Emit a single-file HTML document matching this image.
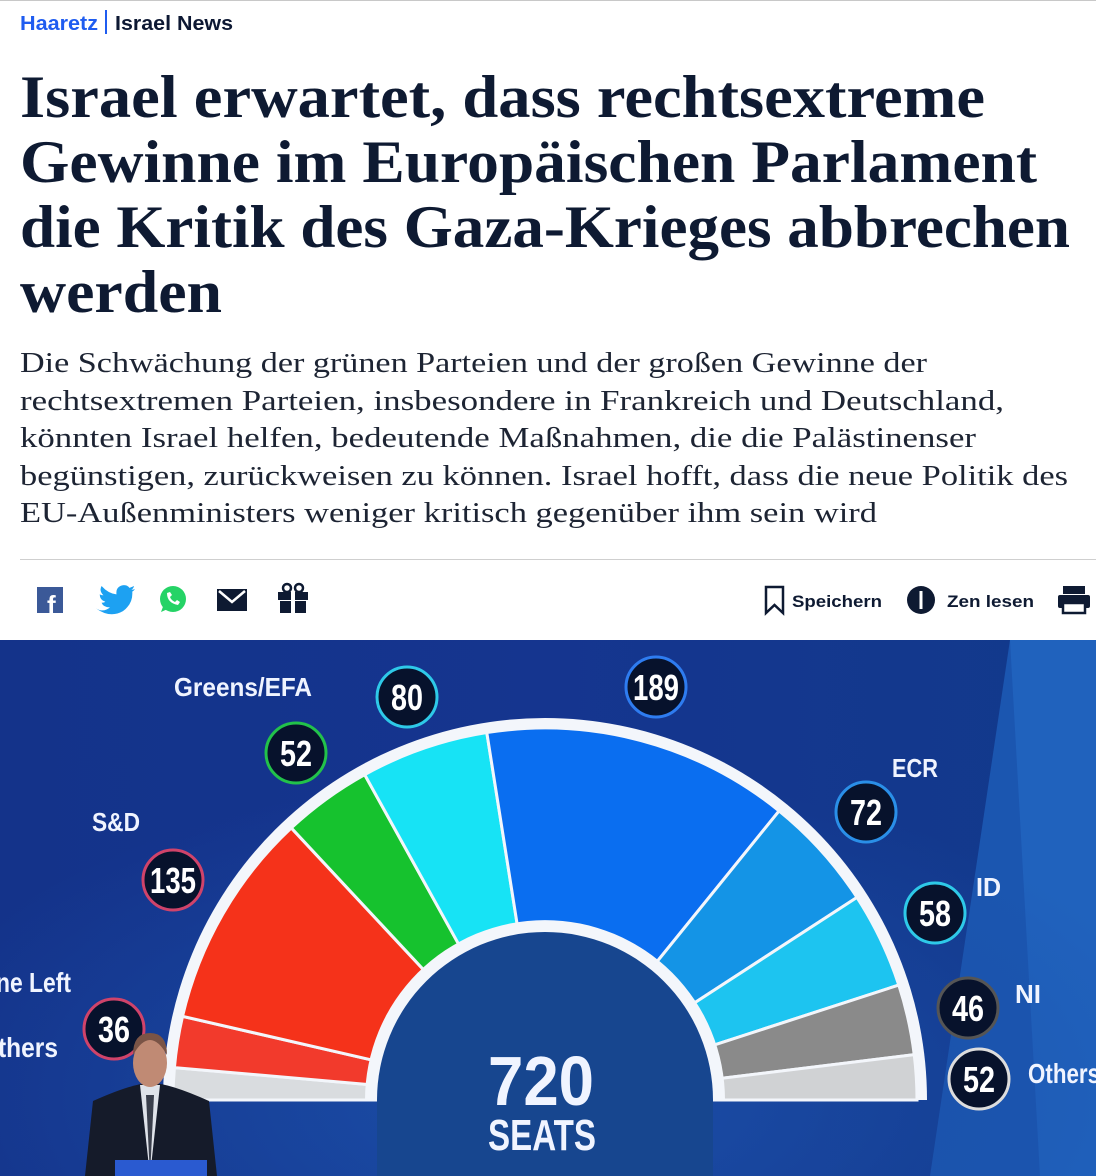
<!DOCTYPE html>
<html><head><meta charset="utf-8"><style>
html,body{margin:0;padding:0;background:#fff;}
body{width:1096px;height:1176px;overflow:hidden;position:relative;font-family:"Liberation Sans",sans-serif;}
svg{position:absolute;left:0;top:0;}
</style></head><body>
<svg width="1096" height="1176" viewBox="0 0 1096 1176" id="s">
<defs>
<linearGradient id="bg" x1="0" y1="0" x2="1" y2="0">
<stop offset="0" stop-color="#14338a"/><stop offset="0.5" stop-color="#15358f"/><stop offset="1" stop-color="#123a8c"/>
</linearGradient>
<radialGradient id="glow" cx="0.5" cy="0.85" r="0.6">
<stop offset="0" stop-color="#1b4fa8"/><stop offset="1" stop-color="#1b4fa8" stop-opacity="0"/>
</radialGradient>
</defs>
<line x1="0" y1="0.5" x2="1096" y2="0.5" stroke="#c8c8c8"/>
<text x="20" y="30" font-family="Liberation Sans" font-weight="bold" font-size="20" fill="#1f5cf0" textLength="78" lengthAdjust="spacingAndGlyphs">Haaretz</text>
<rect x="105" y="10" width="2" height="24" fill="#1f5cf0"/>
<text x="115" y="30" font-family="Liberation Sans" font-weight="bold" font-size="20" fill="#0d1833" textLength="118" lengthAdjust="spacingAndGlyphs">Israel News</text>
<g font-family="Liberation Serif" font-weight="bold" font-size="60" fill="#0e1a32">
<text x="20" y="117" textLength="965" lengthAdjust="spacingAndGlyphs">Israel erwartet, dass rechtsextreme</text>
<text x="20" y="182" textLength="1017" lengthAdjust="spacingAndGlyphs">Gewinne im Europäischen Parlament</text>
<text x="20" y="247" textLength="1050" lengthAdjust="spacingAndGlyphs">die Kritik des Gaza-Krieges abbrechen</text>
<text x="20" y="312" textLength="202" lengthAdjust="spacingAndGlyphs">werden</text>
</g>
<g font-family="Liberation Serif" font-size="29" fill="#1d2433">
<text x="20" y="372" textLength="907" lengthAdjust="spacingAndGlyphs">Die Schwächung der grünen Parteien und der großen Gewinne der</text>
<text x="20" y="410" textLength="984" lengthAdjust="spacingAndGlyphs">rechtsextremen Parteien, insbesondere in Frankreich und Deutschland,</text>
<text x="20" y="447" textLength="956" lengthAdjust="spacingAndGlyphs">könnten Israel helfen, bedeutende Maßnahmen, die die Palästinenser</text>
<text x="20" y="485" textLength="1048" lengthAdjust="spacingAndGlyphs">begünstigen, zurückweisen zu können. Israel hofft, dass die neue Politik des</text>
<text x="20" y="522" textLength="857" lengthAdjust="spacingAndGlyphs">EU-Außenministers weniger kritisch gegenüber ihm sein wird</text>
</g>
<line x1="20" y1="559.5" x2="1096" y2="559.5" stroke="#cfcfcf"/>
<!-- icons -->
<rect x="37" y="587" width="26" height="26" fill="#3b5998"/>
<text x="47" y="614" font-family="Liberation Sans" font-weight="bold" font-size="26" fill="#fff">f</text>
<g transform="translate(96,586) scale(0.93)">
<path d="M0 24 q8 5 15 -1 q-7 0 -9 -5 q3 0 4 -1 q-6 -2 -6 -8 q2 1 4 1 q-5 -5 -2 -10 q7 8 16 9 q-1 -9 8 -10 q4 0 6 3 q3 -1 5 -2 q-1 3 -3 4 q3 0 4 -1 q-1 2 -3 3 q1 13 -10 21 q-14 8 -29 -3z" fill="#1da1f2"/>
</g>
<circle cx="173" cy="599" r="13" fill="#25d366"/>
<path d="M161 612 l3 -8 l6 4z" fill="#25d366"/>
<path d="M167 593 q0 10 11 12 l2 -3 l-3 -2 l-2 2 q-4 -2 -5 -5 l2 -2 l-2 -3z" fill="#fff"/>
<rect x="217" y="589" width="30" height="22" fill="#0e1a32"/>
<path d="M219 591 l13 11 l13 -11" stroke="#fff" stroke-width="2.5" fill="none"/>
<rect x="278" y="592" width="30" height="8" fill="#0e1a32"/>
<rect x="280" y="601" width="26" height="12" fill="#0e1a32"/>
<rect x="291" y="590" width="4" height="24" fill="#fff"/>
<circle cx="287" cy="588" r="4" fill="none" stroke="#0e1a32" stroke-width="2.5"/>
<circle cx="299" cy="588" r="4" fill="none" stroke="#0e1a32" stroke-width="2.5"/>
<path d="M766 587 h17 v26 l-8.5 -8 l-8.5 8z" fill="none" stroke="#0e1a32" stroke-width="2.5"/>
<text x="792" y="607" font-family="Liberation Sans" font-weight="bold" font-size="17" fill="#0e1a32" textLength="90" lengthAdjust="spacingAndGlyphs">Speichern</text>
<circle cx="921" cy="600" r="14" fill="#0e1a32"/>
<rect x="919.5" y="591" width="3" height="18" fill="#fff"/>
<text x="947" y="607" font-family="Liberation Sans" font-weight="bold" font-size="17" fill="#0e1a32" textLength="87" lengthAdjust="spacingAndGlyphs">Zen lesen</text>
<rect x="1063" y="586" width="22" height="8" fill="#0e1a32"/>
<rect x="1058" y="595" width="32" height="13" fill="#0e1a32" rx="2"/>
<rect x="1063" y="603" width="22" height="10" fill="#fff" stroke="#0e1a32" stroke-width="2.5"/>
<!-- photo -->
<rect x="0" y="640" width="1096" height="536" fill="url(#bg)"/>
<polygon points="1010,640 1096,640 1096,1176 930,1176" fill="#1b56b0"/>
<polygon points="1010,640 1096,640 1096,1176 1040,1176" fill="#2062bd"/>
<rect x="0" y="640" width="1096" height="536" fill="url(#glow)"/>
<g id="hemi"></g>
<g font-family="Liberation Sans" font-weight="bold" fill="#f0f4ff">
<text x="174" y="696" font-size="26" textLength="138" lengthAdjust="spacingAndGlyphs">Greens/EFA</text>
<text x="92" y="831" font-size="26" textLength="48" lengthAdjust="spacingAndGlyphs">S&amp;D</text>
<text x="892" y="777" font-size="26" textLength="46" lengthAdjust="spacingAndGlyphs">ECR</text>
<text x="976" y="896" font-size="26" textLength="25" lengthAdjust="spacingAndGlyphs">ID</text>
<text x="1015" y="1003" font-size="26" textLength="26" lengthAdjust="spacingAndGlyphs">NI</text>
<text x="1028" y="1083" font-size="28" textLength="72" lengthAdjust="spacingAndGlyphs">Others</text>
<text x="-4" y="992" font-size="28" textLength="75" lengthAdjust="spacingAndGlyphs">ne Left</text>
<text x="-2" y="1057" font-size="28" textLength="60" lengthAdjust="spacingAndGlyphs">thers</text>
<text x="488" y="1105" font-size="70" textLength="106" lengthAdjust="spacingAndGlyphs">720</text>
<text x="488" y="1150" font-size="44" textLength="108" lengthAdjust="spacingAndGlyphs">SEATS</text>
</g>
<g id="bub" font-family="Liberation Sans" font-weight="bold" fill="#fff" text-anchor="middle"></g>
<!-- speaker -->
<path d="M85 1176 l8 -75 q40 -18 58 -18 q18 0 58 18 l8 75z" fill="#151b2a"/>
<path d="M140 1085 l10 91 l10 -91z" fill="#dfe3ea"/>
<path d="M146 1095 l4 81 l4 -81z" fill="#3a3f4c"/>
<ellipse cx="150" cy="1063" rx="17" ry="24" fill="#c08a74"/>
<path d="M133 1055 q17 -30 34 0 q0 -22 -17 -22 q-17 0 -17 22z" fill="#7a5446"/>
<rect x="115" y="1160" width="92" height="16" fill="#2a5ad0"/>
</svg>
<script>
var cx=545,cy=1100,ro=372,ri=168,NS="http://www.w3.org/2000/svg";
var g=document.getElementById('hemi');
function pt(r,a){a=a*Math.PI/180;return [cx+r*Math.cos(a),cy-r*Math.sin(a)];}
function add(tag,at){var e=document.createElementNS(NS,tag);for(var k in at)e.setAttribute(k,at[k]);return e;}
var o1=pt(ro+10,180),o2=pt(ro+10,0);
g.appendChild(add('path',{d:'M'+o1+' A'+(ro+10)+' '+(ro+10)+' 0 0 1 '+o2+' Z',fill:'#f3f6fb'}));
var b=[180,175,167,133,119,99,51,33,18,7,0];
var c=['#d9dcdf','#f23a2c','#f5321a','#16c22e','#17e3f5','#0a6ef0','#1494e6','#1dc4f0','#8a8a8a','#d0d2d4'];
for(var i=0;i<10;i++){var a1=b[i],a2=b[i+1];
var p1=pt(ro,a1),p2=pt(ro,a2),p3=pt(ri,a2),p4=pt(ri,a1);
g.appendChild(add('path',{d:'M'+p1+' A'+ro+' '+ro+' 0 0 1 '+p2+' L'+p3+' A'+ri+' '+ri+' 0 0 0 '+p4+' Z',fill:c[i],stroke:'#f3f6fb','stroke-width':3}));}
var q1=pt(ri+12,180),q2=pt(ri+12,0);
g.appendChild(add('path',{d:'M'+q1+' A'+(ri+12)+' '+(ri+12)+' 0 0 1 '+q2+' Z',fill:'#f3f6fb'}));
g.appendChild(add('path',{d:'M'+pt(ri,180)+' A'+ri+' '+ri+' 0 0 1 '+pt(ri,0)+' L'+[cx+ri,1176]+' L'+[cx-ri,1176]+' Z',fill:'#17468f'}));
var bub=document.getElementById('bub');
var B=[[407,697,'80','#2ec9e8'],[296,753,'52','#22c24a'],[656,687,'189','#2e7cf0'],[173,880,'135','#d0436a'],[866,812,'72','#2a8fe8'],[935,913,'58','#2ec9e8'],[114,1029,'36','#d0436a'],[968,1008,'46','#555'],[979,1079,'52','#ddd']];
B.forEach(function(v){bub.appendChild(add('circle',{cx:v[0],cy:v[1],r:30,fill:'#07122c',stroke:v[3],'stroke-width':3}));
var w=v[2].length==3?46:32;
var t=add('text',{x:v[0],y:v[1]+13,'font-size':36,textLength:w,lengthAdjust:'spacingAndGlyphs'});t.textContent=v[2];bub.appendChild(t);});
</script>
</body></html>
